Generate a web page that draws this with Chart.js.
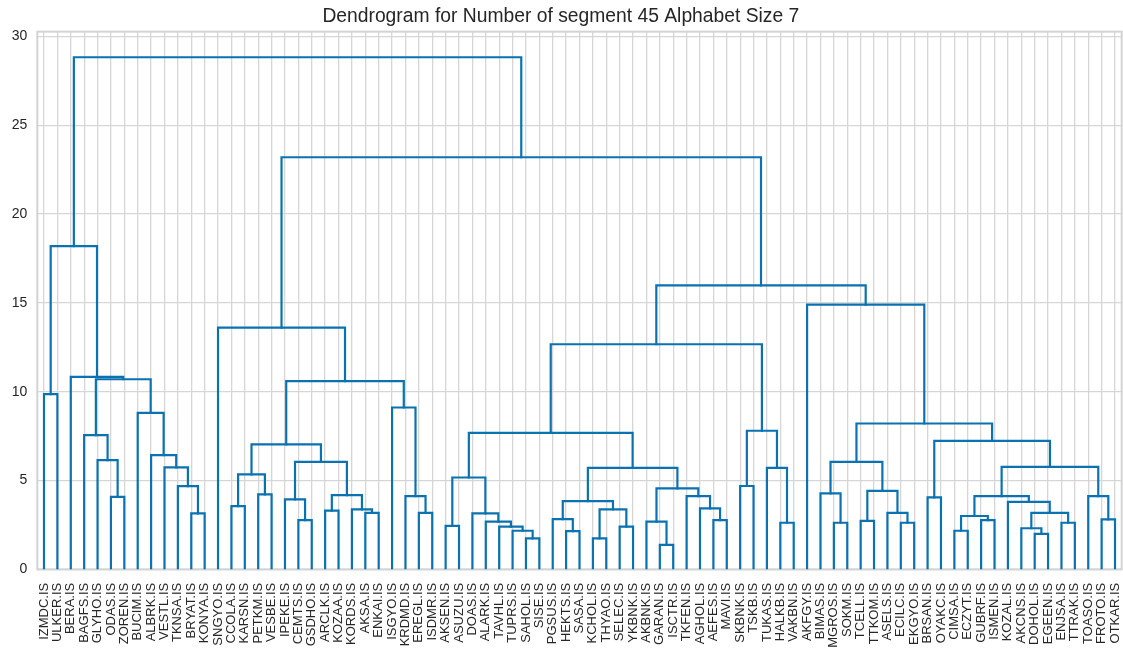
<!DOCTYPE html>
<html>
<head>
<meta charset="utf-8">
<script src="https://cdn.jsdelivr.net/npm/chart.js@4/dist/chart.umd.min.js"></script>
<style>
  html, body { margin: 0; padding: 0; background: #ffffff; }
  #wrap { width: 1123px; height: 651px; }
</style>
</head>
<body>
<div id="wrap"><canvas id="c" width="1123" height="651"></canvas></div>
<script>
// ---- DATA ----
const titleText = "Dendrogram for Number of segment 45 Alphabet Size 7";

// leaf labels, left to right
const leaves = [
  "IZMDC.IS","ULKER.IS","BERA.IS","BAGFS.IS","GLYHO.IS","ODAS.IS","ZOREN.IS","BUCIM.IS","ALBRK.IS","VESTL.IS",
  "TKNSA.IS","BRYAT.IS","KONYA.IS","SNGYO.IS","CCOLA.IS","KARSN.IS","PETKM.IS","VESBE.IS","IPEKE.IS","CEMTS.IS",
  "GSDHO.IS","ARCLK.IS","KOZAA.IS","KORDS.IS","AKSA.IS","ENKAI.IS","ISGYO.IS","KRDMD.IS","EREGL.IS","ISDMR.IS",
  "AKSEN.IS","ASUZU.IS","DOAS.IS","ALARK.IS","TAVHL.IS","TUPRS.IS","SAHOL.IS","SISE.IS","PGSUS.IS","HEKTS.IS",
  "SASA.IS","KCHOL.IS","THYAO.IS","SELEC.IS","YKBNK.IS","AKBNK.IS","GARAN.IS","ISCTR.IS","TKFEN.IS","AGHOL.IS",
  "AEFES.IS","MAVI.IS","SKBNK.IS","TSKB.IS","TUKAS.IS","HALKB.IS","VAKBN.IS","AKFGY.IS","BIMAS.IS","MGROS.IS",
  "SOKM.IS","TCELL.IS","TTKOM.IS","ASELS.IS","ECILC.IS","EKGYO.IS","BRSAN.IS","OYAKC.IS","CIMSA.IS","ECZYT.IS",
  "GUBRF.IS","ISMEN.IS","KOZAL.IS","AKCNS.IS","DOHOL.IS","EGEEN.IS","ENJSA.IS","TTRAK.IS","TOASO.IS","FROTO.IS",
  "OTKAR.IS"
];

// merges: [left child, right child, merge height]
// a child is either a leaf label or the index of an earlier merge in this list
const merges = [
  ["IZMDC.IS","ULKER.IS",9.86],   // 0
  ["ODAS.IS","ZOREN.IS",4.08],    // 1
  ["GLYHO.IS",1,6.15],            // 2
  ["BAGFS.IS",2,7.55],            // 3
  ["BRYAT.IS","KONYA.IS",3.15],   // 4
  ["TKNSA.IS",4,4.68],            // 5
  ["VESTL.IS",5,5.74],            // 6
  ["ALBRK.IS",6,6.43],            // 7
  ["BUCIM.IS",7,8.81],            // 8
  [3,8,10.70],                    // 9
  ["BERA.IS",9,10.83],            // 10
  [0,10,18.2],                    // 11
  ["CCOLA.IS","KARSN.IS",3.56],   // 12
  ["PETKM.IS","VESBE.IS",4.22],   // 13
  [12,13,5.34],                   // 14
  ["CEMTS.IS","GSDHO.IS",2.77],   // 15
  ["IPEKE.IS",15,3.94],           // 16
  ["ARCLK.IS","KOZAA.IS",3.30],   // 17
  ["AKSA.IS","ENKAI.IS",3.18],    // 18
  ["KORDS.IS",18,3.37],           // 19
  [17,19,4.18],                   // 20
  [16,20,6.05],                   // 21
  [14,21,7.03],                   // 22
  ["EREGL.IS","ISDMR.IS",3.18],   // 23
  ["KRDMD.IS",23,4.12],           // 24
  ["ISGYO.IS",24,9.11],           // 25
  [22,25,10.59],                  // 26
  ["SNGYO.IS",26,13.61],          // 27
  ["AKSEN.IS","ASUZU.IS",2.44],   // 28
  ["SAHOL.IS","SISE.IS",1.74],    // 29
  ["TUPRS.IS",29,2.17],           // 30
  ["TAVHL.IS",30,2.40],           // 31
  ["ALARK.IS",31,2.68],           // 32
  ["DOAS.IS",32,3.15],            // 33
  [28,33,5.17],                   // 34
  ["HEKTS.IS","SASA.IS",2.15],    // 35
  ["PGSUS.IS",35,2.83],           // 36
  ["KCHOL.IS","THYAO.IS",1.74],   // 37
  ["SELEC.IS","YKBNK.IS",2.40],   // 38
  [37,38,3.37],                   // 39
  [36,39,3.84],                   // 40
  ["GARAN.IS","ISCTR.IS",1.37],   // 41
  ["AKBNK.IS",41,2.68],           // 42
  ["AEFES.IS","MAVI.IS",2.77],    // 43
  ["AGHOL.IS",43,3.43],           // 44
  ["TKFEN.IS",44,4.12],           // 45
  [42,45,4.56],                   // 46
  [40,46,5.71],                   // 47
  [34,47,7.68],                   // 48
  ["SKBNK.IS","TSKB.IS",4.69],    // 49
  ["HALKB.IS","VAKBN.IS",2.62],   // 50
  ["TUKAS.IS",50,5.71],           // 51
  [49,51,7.80],                   // 52
  [48,52,12.67],                  // 53
  ["MGROS.IS","SOKM.IS",2.62],    // 54
  ["BIMAS.IS",54,4.27],           // 55
  ["TCELL.IS","TTKOM.IS",2.73],   // 56
  ["ECILC.IS","EKGYO.IS",2.62],   // 57
  ["ASELS.IS",57,3.18],           // 58
  [56,58,4.42],                   // 59
  [55,59,6.05],                   // 60
  ["BRSAN.IS","OYAKC.IS",4.05],   // 61
  ["CIMSA.IS","ECZYT.IS",2.17],   // 62
  ["GUBRF.IS","ISMEN.IS",2.77],   // 63
  [62,63,3.00],                   // 64
  ["DOHOL.IS","EGEEN.IS",1.99],   // 65
  ["AKCNS.IS",65,2.31],           // 66
  ["ENJSA.IS","TTRAK.IS",2.62],   // 67
  [66,67,3.18],                   // 68
  ["KOZAL.IS",68,3.80],           // 69
  [64,69,4.12],                   // 70
  ["FROTO.IS","OTKAR.IS",2.81],   // 71
  ["TOASO.IS",71,4.12],           // 72
  [70,72,5.77],                   // 73
  [61,73,7.23],                   // 74
  [60,74,8.21],                   // 75
  ["AKFGY.IS",75,14.9],           // 76
  [53,76,15.99],                  // 77
  [27,77,23.2],                   // 78
  [11,78,28.83]                   // 79
];

const yTicks = [0, 5, 10, 15, 20, 25, 30];

// ---- BUILD LINKS (scipy-style leaf coordinates: 5, 15, 25, ...) ----
const leafPos = (name) => 5 + 10 * leaves.indexOf(name);
const nodeX = [], nodeY = [];
function childPos(c) {
  if (typeof c === "string") return { x: leafPos(c), y: 0 };
  return { x: nodeX[c], y: nodeY[c] };
}
const linkColor = "#0a72b0";
const datasets = merges.map((m, i) => {
  const a = childPos(m[0]), b = childPos(m[1]), h = m[2];
  nodeX[i] = (a.x + b.x) / 2;
  nodeY[i] = h;
  return {
    data: [{x: a.x, y: a.y}, {x: a.x, y: h}, {x: b.x, y: h}, {x: b.x, y: b.y}],
    showLine: true,
    borderColor: linkColor,
    borderWidth: 2.2,
    pointRadius: 0,
    pointHoverRadius: 0,
    fill: false,
    tension: 0,
    borderJoinStyle: "miter",
    borderCapStyle: "square"
  };
});
const maxH = Math.max(...merges.map(m => m[2]));

const FONT = "'Liberation Sans', Arial, Helvetica, sans-serif";
const GRID = "#d6d6d6";

const framePlugin = {
  id: "frame",
  beforeDatasetsDraw(chart) {
    const { ctx, chartArea: a } = chart;
    ctx.save();
    ctx.strokeStyle = "#d3d3d3";
    ctx.lineWidth = 2;
    ctx.strokeRect(a.left, a.top, a.right - a.left, a.bottom - a.top);
    ctx.restore();
  }
};

new Chart(document.getElementById("c"), {
  type: "scatter",
  data: { datasets },
  options: {
    responsive: false,
    animation: false,
    devicePixelRatio: 1,
    events: [],
    layout: { padding: { left: 0, right: 1.3, top: 0, bottom: 0 } },
    plugins: {
      legend: { display: false },
      tooltip: { enabled: false },
      title: {
        display: true,
        text: titleText,
        color: "#262626",
        font: { family: FONT, size: 19.3, weight: "normal", lineHeight: 1.2 },
        padding: { top: 5.5, bottom: 3.0 }
      }
    },
    scales: {
      x: {
        type: "linear",
        min: 0,
        max: leaves.length * 10,
        afterBuildTicks: (s) => { s.ticks = leaves.map((_, i) => ({ value: 5 + 10 * i })); },
        afterFit: (s) => {
          s.height = 651 - 569.3;
          s.paddingLeft = 0; s.paddingRight = 0;
        },
        ticks: {
          autoSkip: false,
          maxRotation: 90,
          minRotation: 90,
          padding: 13.5,
          color: "#262626",
          font: { family: FONT, size: 13 },
          callback: (v, i) => leaves[i]
        },
        grid: { color: GRID, lineWidth: 1.3, drawTicks: false },
        border: { display: false }
      },
      y: {
        type: "linear",
        min: 0,
        max: maxH * 1.05,
        afterBuildTicks: (s) => { s.ticks = yTicks.map(v => ({ value: v })); },
        afterFit: (s) => {
          s.width = 37.3;
          s.paddingTop = 0; s.paddingBottom = 0;
        },
        ticks: {
          padding: 10,
          color: "#262626",
          font: { family: FONT, size: 14 }
        },
        grid: { color: GRID, lineWidth: 1.3, drawTicks: false },
        border: { display: false }
      }
    }
  },
  plugins: [framePlugin]
});
</script>
</body>
</html>
